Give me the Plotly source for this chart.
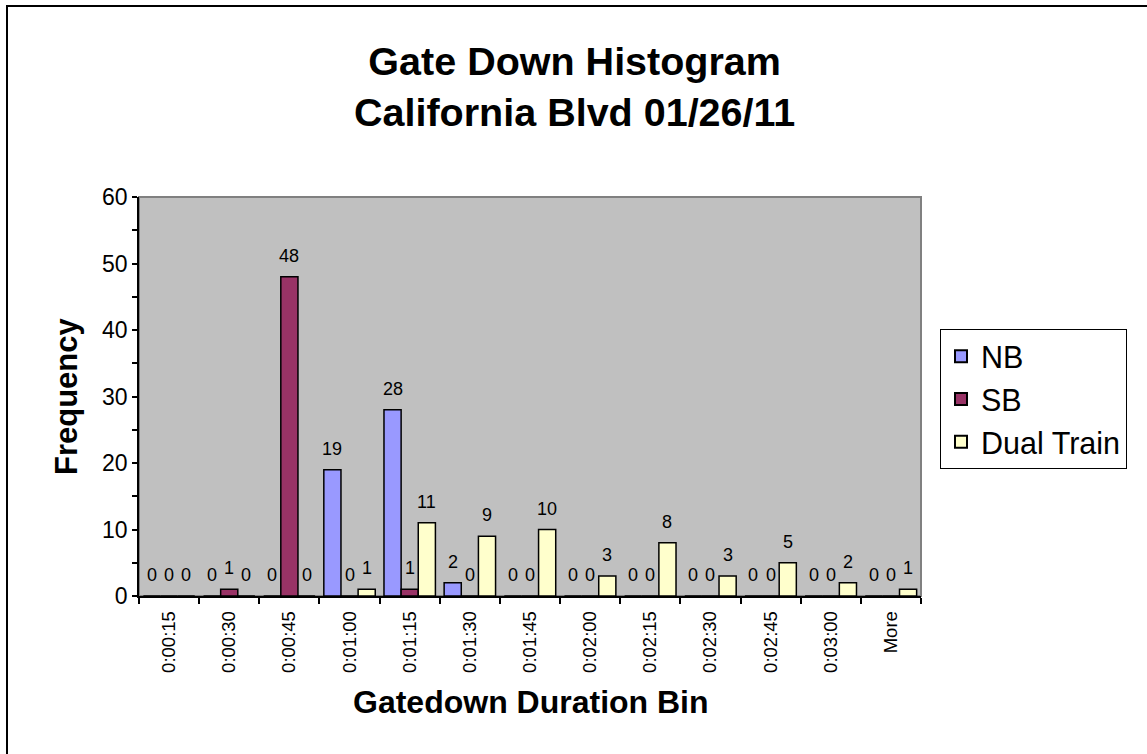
import plotly.graph_objects as go

# Histogram bins (gate-down duration) and counts per direction
bins = ["0:00:15", "0:00:30", "0:00:45", "0:01:00", "0:01:15", "0:01:30", "0:01:45",
        "0:02:00", "0:02:15", "0:02:30", "0:02:45", "0:03:00", "More"]
nb = [0, 0, 0, 19, 28, 2, 0, 0, 0, 0, 0, 0, 0]
sb = [0, 1, 48, 0, 1, 0, 0, 0, 0, 0, 0, 0, 0]
dual = [0, 0, 0, 1, 11, 9, 10, 3, 8, 3, 5, 2, 1]

series = [("NB", nb, "#9999FF"), ("SB", sb, "#993366"), ("Dual Train", dual, "#FFFFCC")]

W, H = 1147, 754
L, R, T, B = 139, 921, 197, 596
FONT = "Arial, Liberation Sans, sans-serif"

fig = go.Figure()
for name, vals, color in series:
    fig.add_trace(go.Bar(
        x=bins, y=vals, name=name,
        marker=dict(color=color, line=dict(color="black", width=1.5)),
    ))

# value labels above every bar (including zero-height bars)
bar_px = (R - L) / len(bins) * (1 - 0.145) / 3
annotations = []
for i, (name, vals, color) in enumerate(series):
    for cat, v in zip(bins, vals):
        annotations.append(dict(
            x=cat, y=v, xref="x", yref="y", text=str(v), showarrow=False,
            xshift=(i - 1) * bar_px, yshift=21, yanchor="middle",
            font=dict(family=FONT, size=18, color="black"),
        ))

pw, ph = R - L, B - T
def px(x):
    return (x - L) / pw
def py(y):
    return (B - y) / ph

annotations += [
    dict(text="<b>Gate Down Histogram<br>California Blvd 01/26/11</b>",
         x=px(574), y=py(87), xref="paper", yref="paper", showarrow=False,
         xanchor="center", yanchor="middle",
         font=dict(family=FONT, size=39.5, color="black")),
    dict(text="<b>Frequency</b>", x=px(66), y=py(396), xref="paper", yref="paper",
         showarrow=False, textangle=-90, xanchor="center", yanchor="middle",
         font=dict(family=FONT, size=31, color="black")),
    dict(text="<b>Gatedown Duration Bin</b>", x=px(531), y=py(702), xref="paper",
         yref="paper", showarrow=False, xanchor="center", yanchor="middle",
         font=dict(family=FONT, size=32, color="black")),
]

shapes = [
    # chart frame
    dict(type="rect", xref="paper", yref="paper", x0=px(7), x1=px(1170), y0=py(6), y1=py(780),
         line=dict(color="black", width=2), fillcolor="rgba(0,0,0,0)", layer="above"),
    # plot area frame
    dict(type="rect", xref="paper", yref="paper", x0=0, x1=1, y0=0, y1=1,
         line=dict(color="#808080", width=2), fillcolor="rgba(0,0,0,0)", layer="below"),
]

fig.update_layout(
    width=W, height=H,
    margin=dict(l=L, r=W - R, t=T, b=H - B, pad=0),
    paper_bgcolor="white", plot_bgcolor="#C0C0C0",
    barmode="group", bargap=0.145, bargroupgap=0,
    font=dict(family=FONT, color="black"),
    annotations=annotations, shapes=shapes,
    showlegend=True,
    legend=dict(
        x=px(940), y=py(329), xanchor="left", yanchor="top",
        bgcolor="white", bordercolor="black", borderwidth=1,
        font=dict(family=FONT, size=30.5, color="black"),
        itemsizing="constant",
    ),
)
fig.update_xaxes(
    type="category", showgrid=False, showline=True, linecolor="black", linewidth=1.5,
    ticks="outside", tickson="boundaries", ticklen=6, tickcolor="black", tickwidth=1.5,
    tickangle=-90, ticklabelstandoff=6, tickfont=dict(family=FONT, size=18.5, color="black"),
)
fig.update_yaxes(
    range=[0, 60], dtick=10, showgrid=False, zeroline=False, showline=True,
    linecolor="black", linewidth=1.5, ticks="outside", ticklen=5, tickcolor="black",
    tickwidth=1.5, tickfont=dict(family=FONT, size=23, color="black"),
    minor=dict(dtick=5, ticks="outside", ticklen=5, tickcolor="black", tickwidth=1.5),
)

fig.write_html("out.html")
